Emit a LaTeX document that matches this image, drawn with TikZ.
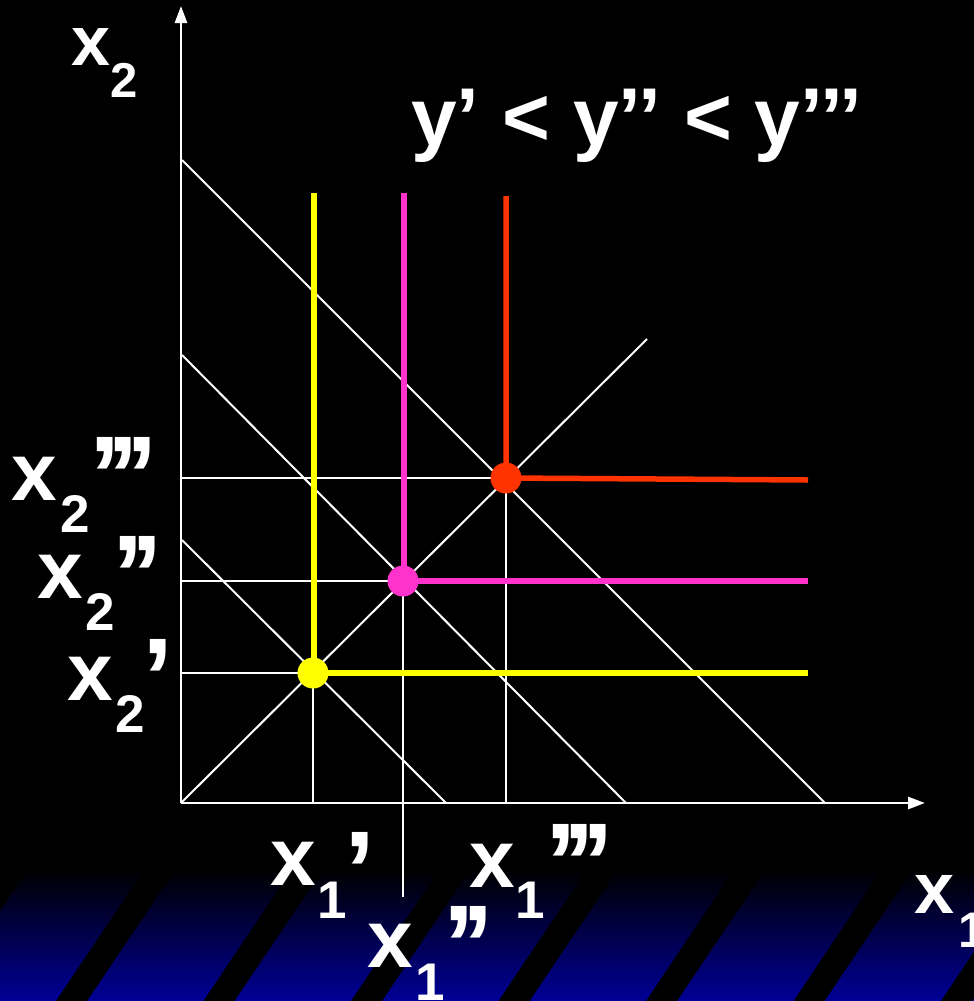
\documentclass[tikz,border=0pt]{standalone}
\usepackage{fontspec}
\setmainfont{Liberation Sans}
\usetikzlibrary{arrows.meta}
\definecolor{myyellow}{RGB}{255,255,0}
\definecolor{mymagenta}{RGB}{255,51,204}
\definecolor{myred}{RGB}{255,51,0}
\definecolor{bandblue}{RGB}{0,0,150}
\begin{document}
\begin{tikzpicture}[x=1pt,y=-1pt,
  thinline/.style={white, line width=2pt},
  axisline/.style={white, line width=2.7pt, -{Triangle[width=12pt,length=17pt]}},
  colline/.style={line width=5.5pt},
  dot/.style={circle, inner sep=0pt, minimum size=31pt},
  big/.style={text=white, inner sep=0pt, anchor=base, font=\bfseries\fontsize{82}{82}\selectfont},
  sub/.style={text=white, inner sep=0pt, anchor=base, font=\bfseries\fontsize{53}{53}\selectfont},
  prm/.style={text=white, inner sep=0pt, anchor=north, font=\bfseries\fontsize{112}{112}\selectfont},
]
\useasboundingbox (0,0) rectangle (974,1001);
\fill[black] (0,0) rectangle (974,1001);
% bottom band
\shade[top color=black, bottom color=bandblue] (0,870) rectangle (974,1001);
\foreach \k in {-1,...,6} {
  \fill[black] ({56+147.5*\k},1001) -- ++(31,0) -- ++(88,-131) -- ++(-31,0) -- cycle;
}
% coordinates
\coordinate (O) at (181,803);
\coordinate (ytip) at (181,6);
\coordinate (xtip) at (925,803);
\coordinate (pA) at (313,673);
\coordinate (pB) at (403,581);
\coordinate (pC) at (506,478);
\coordinate (b1s) at (182,160);
\coordinate (b1e) at (825,803);
\coordinate (b2s) at (182,355);
\coordinate (b2e) at (626,803);
\coordinate (b3s) at (182,540);
\coordinate (b3e) at (446,803);
\coordinate (dE) at (647,339);
\coordinate (hA) at (181,673);
\coordinate (hB) at (181,581);
\coordinate (hC) at (181,478);
\coordinate (vA) at (313,803);
\coordinate (vB) at (403,897);
\coordinate (vC) at (506,803);
\coordinate (yT) at (314,193);
\coordinate (mT) at (404,193);
\coordinate (rT) at (506,196);
\coordinate (yE) at (808,673);
\coordinate (mE) at (808,581);
\coordinate (rE) at (808,480);
% white lines
\draw[thinline] (b1s) -- (b1e);
\draw[thinline] (b2s) -- (b2e);
\draw[thinline] (b3s) -- (b3e);
\draw[thinline] (O) -- (dE);
\draw[thinline] (hA) -- (pA) -- (vA);
\draw[thinline] (hB) -- (pB) -- (vB);
\draw[thinline] (hC) -- (pC) -- (vC);
% coloured lines
\draw[colline, myyellow] (yT) -- (yT |- pA) -- (pA) -- (yE);
\draw[colline, mymagenta] (mT) -- (mT |- pB) -- (pB) -- (mE);
\draw[colline, myred] (rT) -- (pC) -- (rE);
% axes
\draw[axisline] (O) -- (ytip);
\draw[axisline] (O) -- (xtip);
% dots
\node[dot, fill=myyellow] (A) at (pA) {};
\node[dot, fill=mymagenta] (B) at (pB) {};
\node[dot, fill=myred] (C) at (pC) {};
% labels
\node[big] (title) at (637,145) {y’ < y’’ < y’’’};
\node[big, font=\bfseries\fontsize{70}{70}\selectfont] (x2x) at (91,65) {x};
\node[sub, font=\bfseries\fontsize{49}{49}\selectfont] (x2s) at (124.5,97) {2};
\node[big] (x2cx) at (34,500) {x};
\node[sub] (x2cs) at (75,532) {2};
\node[prm] (x2cp) at (123.5,437) {’\kern-13pt’\kern-13pt’};
\node[big] (x2bx) at (60,598) {x};
\node[sub] (x2bs) at (100,630) {2};
\node[prm] (x2bp) at (137.5,536) {’\kern-13pt’};
\node[big] (x2ax) at (90,700) {x};
\node[sub] (x2as) at (130,732) {2};
\node[prm] (x2ap) at (158.5,639) {’};
\node[big] (x1ax) at (293.5,885) {x};
\node[sub] (x1as) at (332,918) {1};
\node[prm] (x1ap) at (360,832) {’};
\node[big] (x1bx) at (390.5,967) {x};
\node[sub] (x1bs) at (430,1000) {1};
\node[prm] (x1bp) at (468.5,906) {’\kern-13pt’};
\node[big] (x1cx) at (492.5,887) {x};
\node[sub] (x1cs) at (530,918) {1};
\node[prm] (x1cp) at (579.5,824) {’\kern-13pt’\kern-13pt’};
\node[big, font=\bfseries\fontsize{72}{72}\selectfont] (x1x) at (934.5,913) {x};
\node[sub, font=\bfseries\fontsize{50}{50}\selectfont] (x1s) at (972,947) {1};
\end{tikzpicture}
\end{document}
